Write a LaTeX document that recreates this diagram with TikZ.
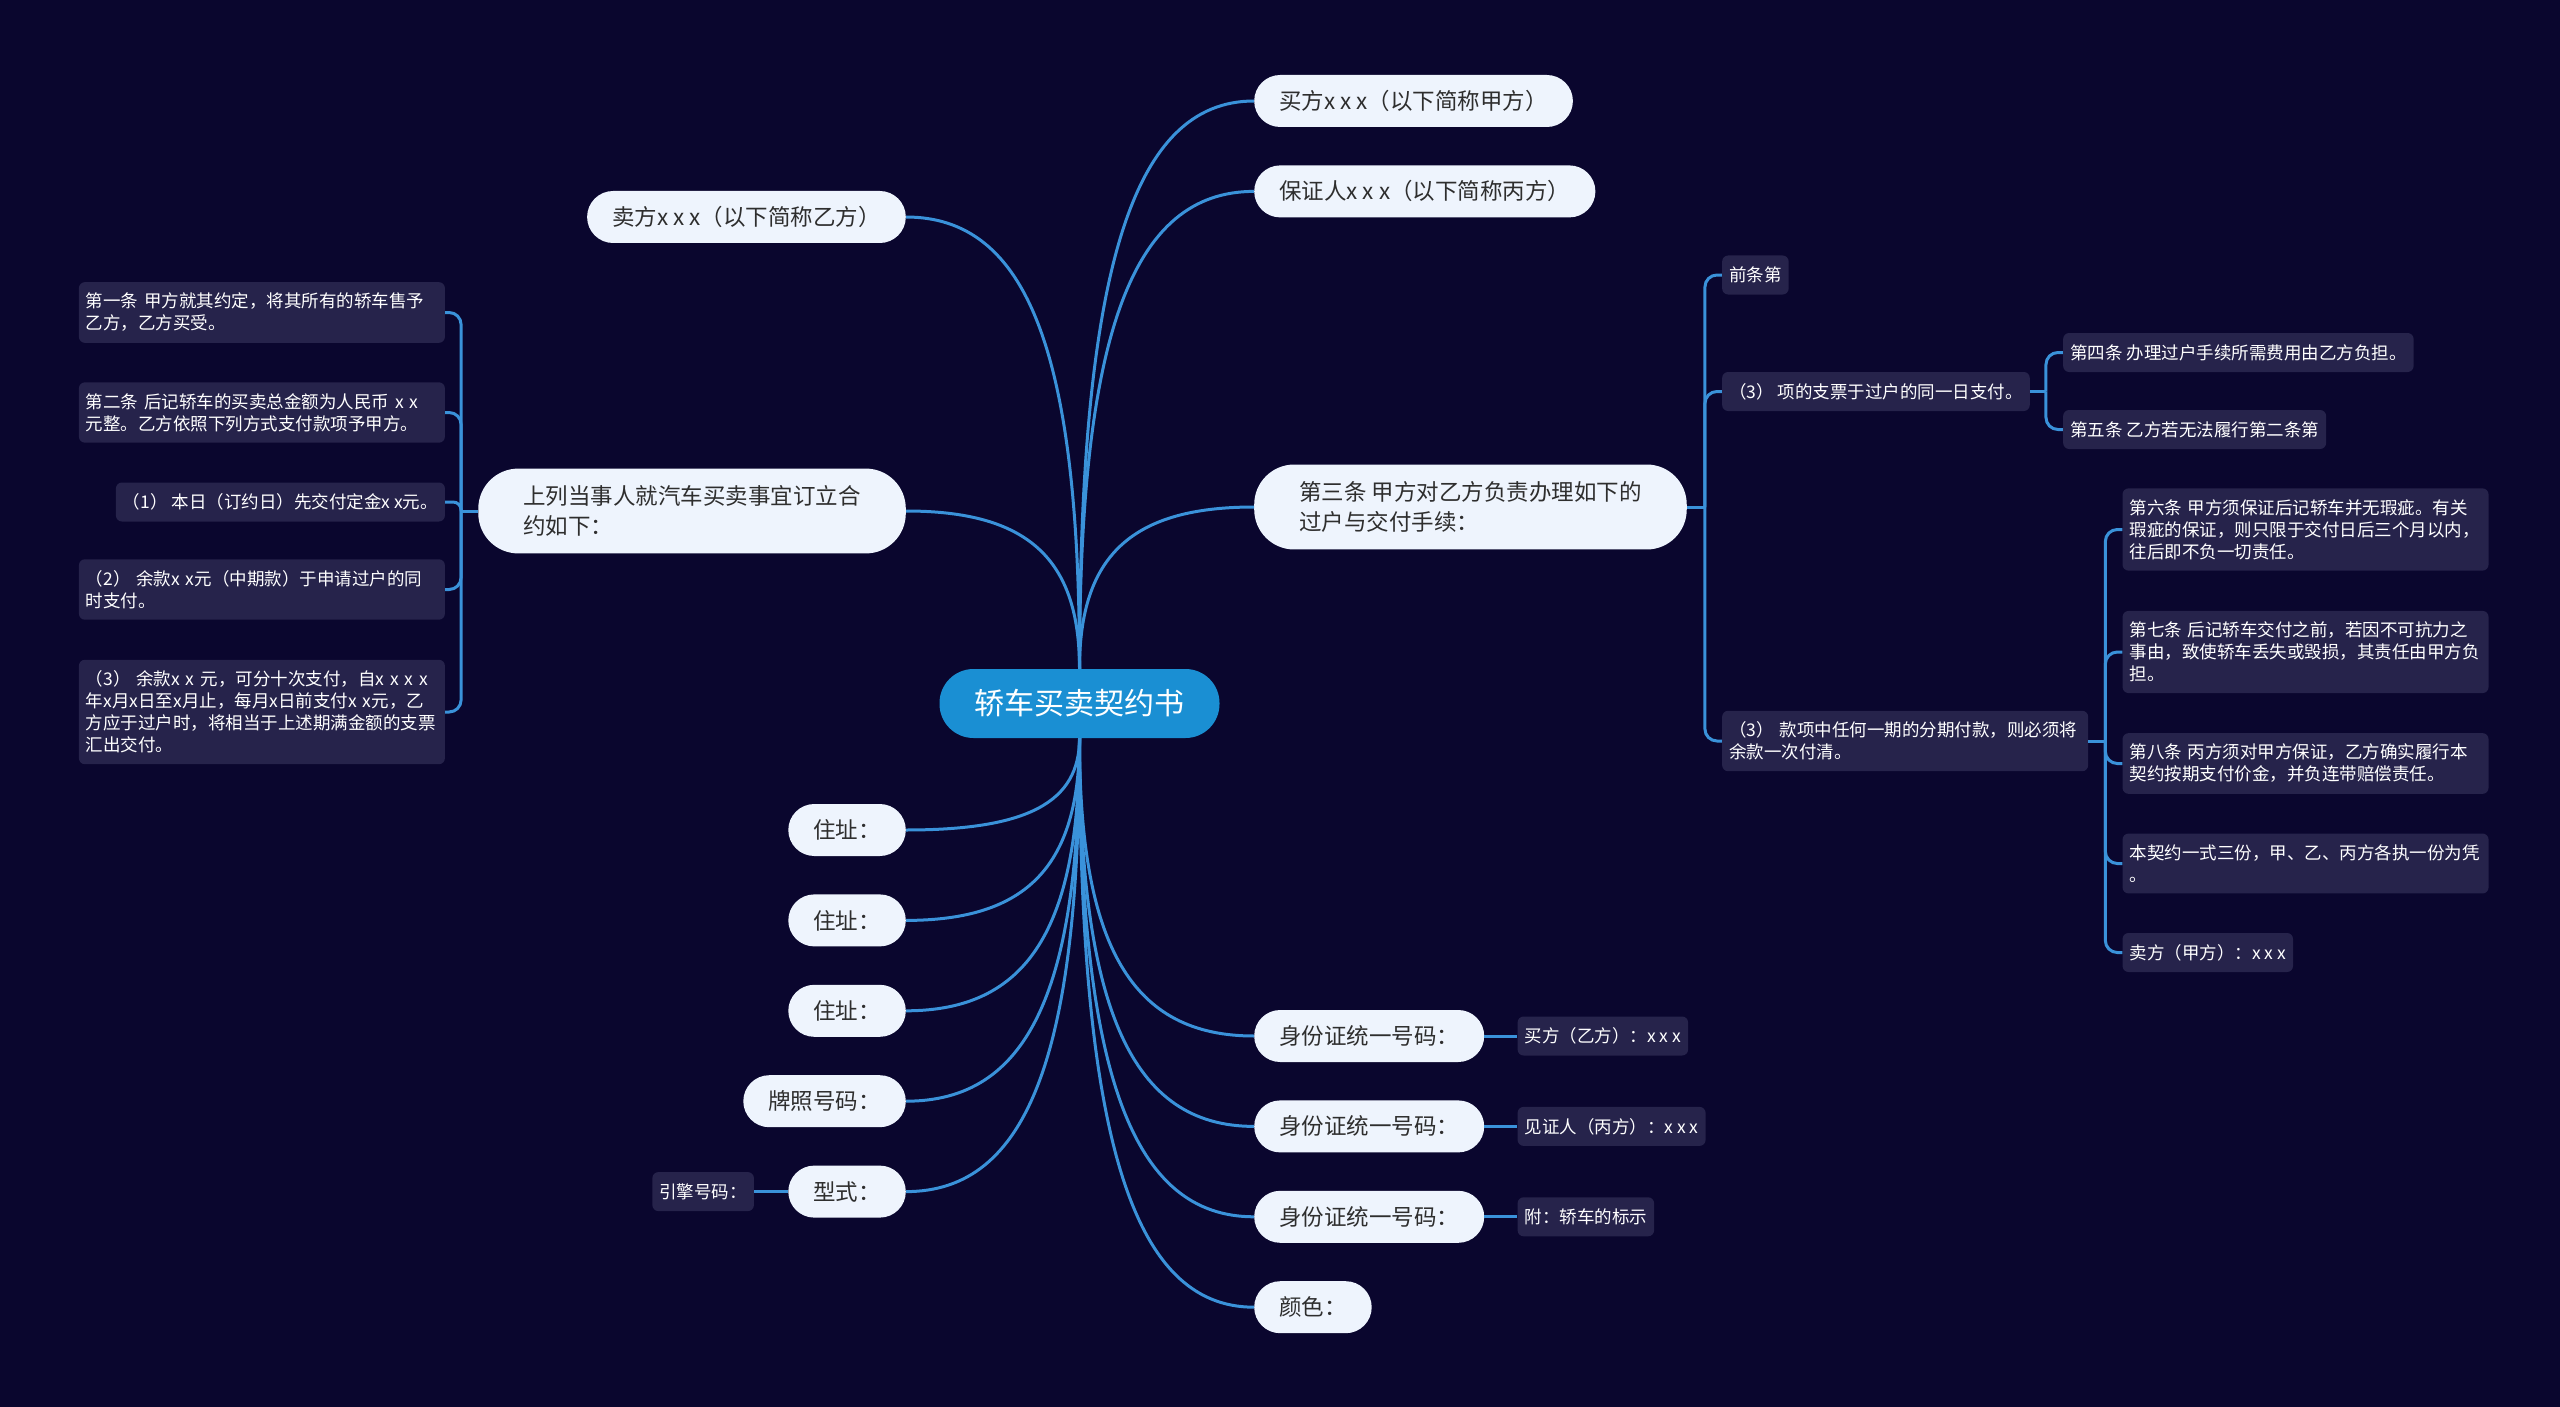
\documentclass[tikz,border=0pt]{standalone}
\usepackage{fontspec}
\setmainfont{Noto Sans CJK SC}
\usepackage{tikz}
\usetikzlibrary{positioning, calc}

\definecolor{fondo}{HTML}{0A062E}
\definecolor{rama}{HTML}{3A92DA}
\definecolor{raizfill}{HTML}{1A8FD3}
\definecolor{temafill}{HTML}{EEF4FD}
\definecolor{tematext}{HTML}{2E2E2E}
\definecolor{hojafill}{HTML}{26234B}

\tikzset{
  rootnode/.style={rectangle, rounded corners=34pt, minimum height=69pt, inner xsep=35pt, inner ysep=0pt, fill=raizfill, text=white, font=\fontsize{30}{36}\selectfont},
  topic/.style={rectangle, rounded corners=26pt, minimum height=52pt, inner xsep=25pt, inner ysep=0pt, fill=temafill, text=tematext, font=\fontsize{22.5}{30}\selectfont},
  bigtopic/.style={topic, rounded corners=40pt, align=left, inner xsep=45pt, inner ysep=17pt},
  leafbox/.style={rectangle, rounded corners=6pt, minimum height=39pt, inner xsep=7pt, inner ysep=11pt, fill=hojafill, text=white, font=\fontsize{17.5}{22}\selectfont},
  wideleaf/.style={leafbox, text width=352pt, align=left},
  link/.style={draw=rama, line width=3pt},
  bracketline/.style={link, rounded corners=12pt},
  curvy/.style={to path={.. controls ($(\tikztostart)!0.7!(\tikztostart |- \tikztotarget)$) and ($(\tikztotarget)!0.7!(\tikztostart |- \tikztotarget)$) .. (\tikztotarget)}}
}

\begin{document}
\begin{tikzpicture}[x=1pt, y=1pt]
    % --- Fondo ---
    \fill[fondo] (0,0) rectangle (2560,-1407);
    \useasboundingbox (0,0) rectangle (2560,-1407);

    % --- Nodo central ---
    \node (root) [rootnode] at (1079.5,-703.5) {轿车买卖契约书};

    % --- Ramas superiores ---
    \node (buyer) [topic, anchor=west] at (1254,-101) {买方x x x（以下简称甲方）};
    \node (guarantor) [topic, below right=38pt and 0pt of buyer.south west] {保证人x x x（以下简称丙方）};
    \node (third) [bigtopic, anchor=west] at (1254,-507) {第三条 甲方对乙方负责办理如下的\\过户与交付手续：};
    \node (seller) [topic, anchor=east] at (906,-217) {卖方x x x（以下简称乙方）};
    \node (terms) [bigtopic, anchor=east] at (906,-511) {上列当事人就汽车买卖事宜订立合\\约如下：};

    % --- Ramas inferiores izquierda ---
    \node (addr1) [topic, anchor=east] at (906,-830) {住址：};
    \node (addr2) [topic, below left=38pt and 0pt of addr1.south east] {住址：};
    \node (addr3) [topic, below left=38pt and 0pt of addr2.south east] {住址：};
    \node (plate) [topic, below left=38pt and 0pt of addr3.south east] {牌照号码：};
    \node (model) [topic, below left=38pt and 0pt of plate.south east] {型式：};
    \node (engine) [leafbox, left=34pt of model] {引擎号码：};

    % --- Ramas inferiores derecha ---
    \node (id1) [topic, anchor=west] at (1254,-1036) {身份证统一号码：};
    \node (id2) [topic, below right=38pt and 0pt of id1.south west] {身份证统一号码：};
    \node (id3) [topic, below right=38pt and 0pt of id2.south west] {身份证统一号码：};
    \node (colour) [topic, below right=38pt and 0pt of id3.south west] {颜色：};
    \node (buyerb) [leafbox, right=33pt of id1] {买方（乙方）：x x x};
    \node (witness) [leafbox, right=33pt of id2] {见证人（丙方）：x x x};
    \node (annex) [leafbox, right=33pt of id3] {附：轿车的标示};

    % --- Cláusulas de la izquierda ---
    \node (art1) [wideleaf, left=33pt of terms, yshift=198.5pt] {第一条 甲方就其约定，将其所有的轿车售予\\乙方，乙方买受。};
    \node (art2) [wideleaf, left=33pt of terms, yshift=98.5pt] {第二条 后记轿车的买卖总金额为人民币 x x\\元整。乙方依照下列方式支付款项予甲方。};
    \node (pay1) [leafbox, left=33pt of terms, yshift=9pt] {（1） 本日（订约日）先交付定金x x元。};
    \node (pay2) [wideleaf, left=33pt of terms, yshift=-78.5pt] {（2） 余款x x元（中期款）于申请过户的同\\时支付。};
    \node (pay3) [wideleaf, left=33pt of terms, yshift=-201pt] {（3） 余款x x 元，可分十次支付，自x x x x\\年x月x日至x月止，每月x日前支付x x元，乙\\方应于过户时，将相当于上述期满金额的支票\\汇出交付。};

    % --- Cláusulas de la derecha ---
    \node (prev) [leafbox, right=35pt of third, yshift=232pt] {前条第};
    \node (item3a) [leafbox, right=35pt of third, yshift=115.5pt] {（3） 项的支票于过户的同一日支付。};
    \node (item3b) [wideleaf, right=35pt of third, yshift=-234pt] {（3） 款项中任何一期的分期付款，则必须将\\余款一次付清。};
    \node (art4) [leafbox, right=33pt of item3a, yshift=39pt] {第四条 办理过户手续所需费用由乙方负担。};
    \node (art5) [leafbox, right=33pt of item3a, yshift=-38pt] {第五条 乙方若无法履行第二条第};
    \node (art6) [wideleaf, right=34pt of item3b, yshift=211.5pt] {第六条 甲方须保证后记轿车并无瑕疵。有关\\瑕疵的保证，则只限于交付日后三个月以内，\\往后即不负一切责任。};
    \node (art7) [wideleaf, right=34pt of item3b, yshift=89pt] {第七条 后记轿车交付之前，若因不可抗力之\\事由，致使轿车丢失或毁损，其责任由甲方负\\担。};
    \node (art8) [wideleaf, right=34pt of item3b, yshift=-22.5pt] {第八条 丙方须对甲方保证，乙方确实履行本\\契约按期支付价金，并负连带赔偿责任。};
    \node (copies) [wideleaf, right=34pt of item3b, yshift=-122.5pt] {本契约一式三份，甲、乙、丙方各执一份为凭\\。};
    \node (sellera) [leafbox, right=34pt of item3b, yshift=-211.5pt] {卖方（甲方）：x x x};

    % --- Conexiones desde el nodo central ---
    \draw [link] (root.north) to[curvy] (buyer.west);
    \draw [link] (root.north) to[curvy] (guarantor.west);
    \draw [link] (root.north) to[curvy] (third.west);
    \draw [link] (root.north) to[curvy] (seller.east);
    \draw [link] (root.north) to[curvy] (terms.east);
    \draw [link] (root.south) to[curvy] (addr1.east);
    \draw [link] (root.south) to[curvy] (addr2.east);
    \draw [link] (root.south) to[curvy] (addr3.east);
    \draw [link] (root.south) to[curvy] (plate.east);
    \draw [link] (root.south) to[curvy] (model.east);
    \draw [link] (root.south) to[curvy] (id1.west);
    \draw [link] (root.south) to[curvy] (id2.west);
    \draw [link] (root.south) to[curvy] (id3.west);
    \draw [link] (root.south) to[curvy] (colour.west);

    % --- Conexiones rectas ---
    \draw [link] (model.west) -- (engine.east);
    \draw [link] (id1.east) -- (buyerb.west);
    \draw [link] (id2.east) -- (witness.west);
    \draw [link] (id3.east) -- (annex.west);

    % --- Llaves de la izquierda ---
    \draw [link] (terms.west) -- ++(-17pt,0) coordinate (termsb);
    \draw [bracketline] (termsb) |- (art1.east);
    \draw [bracketline] (termsb) |- (art2.east);
    \draw [link, rounded corners=8pt] (termsb) |- (pay1.east);
    \draw [bracketline] (termsb) |- (pay2.east);
    \draw [bracketline] (termsb) |- (pay3.east);

    % --- Llaves de la derecha ---
    \draw [link] (third.east) -- ++(18pt,0) coordinate (thirdb);
    \draw [bracketline] (thirdb) |- (prev.west);
    \draw [bracketline] (thirdb) |- (item3a.west);
    \draw [bracketline] (thirdb) |- (item3b.west);

    \draw [link] (item3a.east) -- ++(16pt,0) coordinate (item3ab);
    \draw [bracketline] (item3ab) |- (art4.west);
    \draw [bracketline] (item3ab) |- (art5.west);

    \draw [link] (item3b.east) -- ++(17pt,0) coordinate (item3bb);
    \draw [bracketline] (item3bb) |- (art6.west);
    \draw [bracketline] (item3bb) |- (art7.west);
    \draw [bracketline] (item3bb) |- (art8.west);
    \draw [bracketline] (item3bb) |- (copies.west);
    \draw [bracketline] (item3bb) |- (sellera.west);

\end{tikzpicture}
\end{document}
